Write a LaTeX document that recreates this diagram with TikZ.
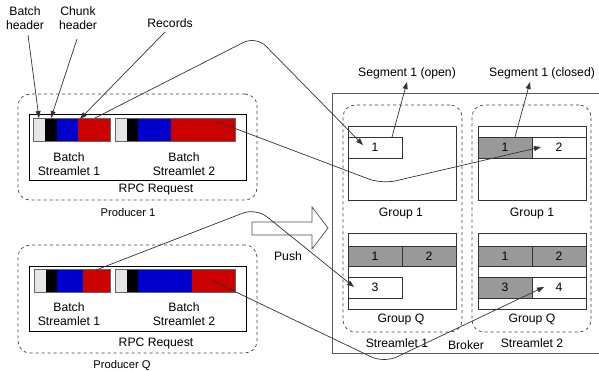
\documentclass[tikz,border=0pt]{standalone}
\usepackage{fontspec}
\setmainfont{Liberation Sans}
\usetikzlibrary{arrows.meta}
\definecolor{cblue}{HTML}{0000CC}
\definecolor{cred}{HTML}{CC0000}
\definecolor{clg}{HTML}{E6E6E6}
\definecolor{cseg}{HTML}{999999}
\definecolor{cline}{HTML}{333333}
\begin{document}
\begin{tikzpicture}[x=1pt,y=-1pt,font=\fontsize{12.2}{14.5}\selectfont,
  cell/.style={inner sep=0pt, outer sep=0pt, anchor=north west},
  dashbox/.style={cell, draw=black!75, dashed, line width=0.7pt, rounded corners=12pt},
  solidbox/.style={cell, draw=black, line width=0.9pt},
  seg/.style={cell, draw=black!80, line width=0.7pt},
  batchframe/.style={cell, draw=black!60, line width=0.9pt},
  lbl/.style={inner sep=0pt, align=center},
  small/.style={lbl, font=\fontsize{11.2}{13}\selectfont},
  arr/.style={-{Triangle[length=7pt,width=5pt]}, draw=cline, line width=0.7pt},
  link/.style={arr, rounded corners=14pt},
]
\useasboundingbox (0,0) rectangle (599,370);

% ---------- Producer 1 ----------
\node[dashbox, minimum width=239pt, minimum height=106pt] (prod1) at (18,94) {};
\node[solidbox, minimum width=217pt, minimum height=66pt] (rpc1) at (29,114) {};
% batch 1
\node[cell, fill=clg,   minimum width=11pt, minimum height=22pt] (p1h1) at (34,119) {};
\node[cell, fill=black, minimum width=12pt, minimum height=22pt] (p1c1) at (45,119) {};
\node[cell, fill=cblue, minimum width=21pt, minimum height=22pt] (p1b1) at (57,119) {};
\node[cell, fill=cred,  minimum width=32pt, minimum height=22pt] (p1r1) at (78,119) {};
\node[batchframe, minimum width=77pt, minimum height=23pt] (p1bat1) at (33.5,118.5) {};
% batch 2
\node[cell, fill=clg,   minimum width=11pt, minimum height=22pt] (p1h2) at (116,119) {};
\node[cell, fill=black, minimum width=11pt, minimum height=22pt] (p1c2) at (127,119) {};
\node[cell, fill=cblue, minimum width=33pt, minimum height=22pt] (p1b2) at (138,119) {};
\node[cell, fill=cred,  minimum width=64pt, minimum height=22pt] (p1r2) at (171,119) {};
\node[batchframe, minimum width=120pt, minimum height=23pt] (p1bat2) at (115.5,118.5) {};
\node[lbl] (p1l1) at (69,164) {Batch\\Streamlet 1};
\node[lbl] (p1l2) at (184,164) {Batch\\Streamlet 2};
\node[lbl] (p1rpc) at (156,190) {RPC Request};
\node[small] (p1name) at (128,212) {Producer 1};

% ---------- Producer Q ----------
\node[dashbox, minimum width=239pt, minimum height=108pt] (prodq) at (18,245) {};
\node[solidbox, minimum width=217pt, minimum height=65pt] (rpcq) at (29,266) {};
\node[cell, fill=clg,   minimum width=11pt, minimum height=22pt] (pqh1) at (35,270) {};
\node[cell, fill=black, minimum width=11pt, minimum height=22pt] (pqc1) at (46,270) {};
\node[cell, fill=cblue, minimum width=26pt, minimum height=22pt] (pqb1) at (57,270) {};
\node[cell, fill=cred,  minimum width=27pt, minimum height=22pt] (pqr1) at (83,270) {};
\node[batchframe, minimum width=76pt, minimum height=23pt] (pqbat1) at (34.5,269.5) {};
\node[cell, fill=clg,   minimum width=11pt, minimum height=22pt] (pqh2) at (116,270) {};
\node[cell, fill=black, minimum width=11pt, minimum height=22pt] (pqc2) at (127,270) {};
\node[cell, fill=cblue, minimum width=54pt, minimum height=22pt] (pqb2) at (138,270) {};
\node[cell, fill=cred,  minimum width=43pt, minimum height=22pt] (pqr2) at (192,270) {};
\node[batchframe, minimum width=120pt, minimum height=23pt] (pqbat2) at (115.5,269.5) {};
\node[lbl] (pql1) at (69,314) {Batch\\Streamlet 1};
\node[lbl] (pql2) at (184,314) {Batch\\Streamlet 2};
\node[lbl] (pqrpc) at (156,343) {RPC Request};
\node[small] (pqname) at (122,365) {Producer Q};

% ---------- header labels ----------
\node[lbl] (bh) at (25,18) {Batch\\header};
\node[lbl] (ch) at (78,18) {Chunk\\header};
\node[lbl] (rec) at (170,23) {Records};
\coordinate (bhs) at (28,35);
\coordinate (chs) at (77,39);
\coordinate (recs) at (165,32);
\coordinate (bht) at (39,118);
\coordinate (cht) at (51,118);
\coordinate (rect) at (80,119);
\draw[arr] (bhs) -- (bht);
\draw[arr] (chs) -- (cht);
\draw[arr] (recs) -- (rect);

% ---------- Push arrow ----------
\draw[draw=black!70, fill=white, line width=0.7pt] (252,222) -- (312,222) -- (312,207) -- (328,228) -- (312,249) -- (312,235) -- (252,235) -- cycle;
\node[lbl] (push) at (288,256) {Push};

% ---------- Broker ----------
\draw[draw=black!65, line width=1pt] (602,93) -- (332,93) -- (332,353) -- (602,353);
\node[lbl] (broker) at (466,345) {Broker};
\node[dashbox, minimum width=119pt, minimum height=227pt] (st1) at (343,105) {};
\node[dashbox, minimum width=119pt, minimum height=227pt] (st2) at (472,105) {};
\node[lbl] (st1l) at (397,343) {Streamlet 1};
\node[lbl] (st2l) at (532,343) {Streamlet 2};

% Streamlet 1, Group 1
\node[seg, minimum width=108pt, minimum height=74pt] (g11) at (348,126) {};
\node[seg, minimum width=54pt, minimum height=21pt] (s111) at (348,137) {1};
\node[lbl] (g11l) at (401,214) {Group 1};
% Streamlet 2, Group 1
\node[seg, minimum width=108pt, minimum height=74pt] (g21) at (478,126) {};
\node[seg, minimum width=108pt, minimum height=21pt] (r21) at (478,137) {};
\node[seg, fill=cseg, minimum width=54pt, minimum height=21pt] (s211) at (478,137) {1};
\node[seg, minimum width=54pt, minimum height=21pt] (s212) at (532,137) {2};
\node[lbl] (g21l) at (532,214) {Group 1};
% Streamlet 1, Group Q
\node[seg, minimum width=108pt, minimum height=76pt] (g1q) at (348,233) {};
\node[seg, fill=cseg, minimum width=54pt, minimum height=20pt] (s1q1) at (348,246) {1};
\node[seg, fill=cseg, minimum width=54pt, minimum height=20pt] (s1q2) at (402,246) {2};
\node[seg, minimum width=54pt, minimum height=21pt] (s1q3) at (348,277) {3};
\node[lbl] (g1ql) at (401,319) {Group Q};
% Streamlet 2, Group Q
\node[seg, minimum width=108pt, minimum height=76pt] (g2q) at (478,233) {};
\node[seg, fill=cseg, minimum width=54pt, minimum height=20pt] (s2q1) at (478,246) {1};
\node[seg, fill=cseg, minimum width=54pt, minimum height=20pt] (s2q2) at (532,246) {2};
\node[seg, minimum width=108pt, minimum height=21pt] (r2q) at (478,277) {};
\node[seg, fill=cseg, minimum width=54pt, minimum height=21pt] (s2q3) at (478,277) {3};
\node[seg, minimum width=54pt, minimum height=21pt] (s2q4) at (532,277) {4};
\node[lbl] (g2ql) at (532,319) {Group Q};

% segment labels
\node[lbl] (sopen) at (407,73) {Segment 1 (open)};
\node[lbl] (sclosed) at (542,73) {Segment 1 (closed)};
\coordinate (so) at (392,137);
\coordinate (sc) at (515,137);
\draw[arr] (so) -- (407,82);
\draw[arr] (sc) -- (530,82);

% ---------- data flow curves ----------
\coordinate (c1s) at (95,118);
\coordinate (c1t) at (363,145);
\coordinate (c2s) at (218,122);
\coordinate (c2t) at (541,147);
\coordinate (c3s) at (96,270);
\coordinate (c3t) at (354,287);
\coordinate (c4s) at (213,281);
\coordinate (c4t) at (544,287);
\draw[link] (c1s) -- (256,36) -- (c1t);
\draw[link] (c2s) -- (382,184) -- (c2t);
\draw[link] (c3s) -- (256,208) -- (c3t);
\draw[link] (c4s) -- (384,363) -- (c4t);
\end{tikzpicture}
\end{document}
